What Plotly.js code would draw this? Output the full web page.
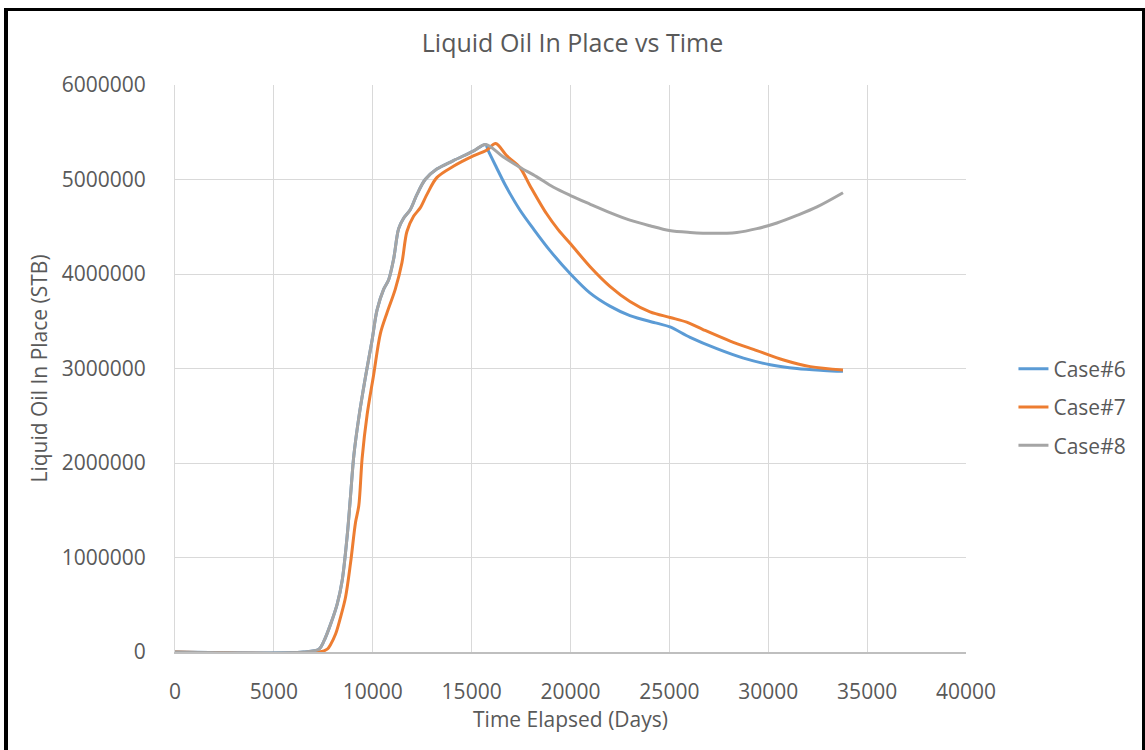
<!DOCTYPE html>
<html>
<head>
<meta charset="utf-8">
<script src="https://cdn.plot.ly/plotly-3.0.1.min.js"></script>
<style>
  html, body { margin: 0; padding: 0; background: #fff; overflow: hidden; }
  #chart { width: 1145px; height: 750px; }
  #frame { position: absolute; left: 4px; top: 8px; width: 1134px; height: 760px;
           border-left: 4px solid #000; border-top: 3px solid #000; border-right: 3px solid #000;
           pointer-events: none; }
</style>
</head>
<body>
<div id="chart"></div>
<div id="frame"></div>
<script>
// Case#6
const case6Time = [0, 6500, 7280, 7533, 7869, 8205, 8456, 8708, 8876, 9044, 9295, 9631, 9966, 10218, 10554, 10805, 11057, 11309, 11560, 11896, 12232, 12651, 13239, 14078, 15084, 15705,
  15828, 16250, 16757, 17433, 18150, 18953, 20000, 20980, 21993, 23006, 24358, 25034, 26047, 27398, 28749, 30100, 31451, 32803, 33780];
const case6Oil = [0, 0, 30000, 117000, 295000, 510000, 760000, 1230000, 1650000, 2080000, 2480000, 2910000, 3300000, 3620000, 3840000, 3940000, 4160000, 4480000, 4590000, 4680000, 4840000, 5000000, 5110000, 5200000, 5300000, 5370000,
  5310000, 5130000, 4920000, 4680000, 4470000, 4250000, 4000000, 3800000, 3660000, 3560000, 3480000, 3440000, 3330000, 3210000, 3110000, 3040000, 3000000, 2980000, 2970000];

// Case#7
const case7Time = [0, 7300, 7700, 7869, 8121, 8373, 8624, 8876, 9128, 9295, 9463, 9715, 10050, 10386, 10722, 11141, 11477, 11728, 12064, 12400, 12735, 13239, 14078, 15084, 15755, 16217,
  16780, 17433, 17939, 18784, 19375, 20000, 20980, 21993, 23006, 24020, 25034, 25878, 26723, 28074, 29425, 30776, 32127, 33780];
const case7Oil = [0, 0, 30000, 80000, 190000, 370000, 580000, 940000, 1370000, 1550000, 2050000, 2510000, 2940000, 3370000, 3590000, 3840000, 4120000, 4450000, 4610000, 4700000, 4840000, 5020000, 5140000, 5250000, 5310000, 5380000,
  5250000, 5130000, 4940000, 4640000, 4470000, 4320000, 4080000, 3870000, 3710000, 3600000, 3540000, 3490000, 3410000, 3290000, 3190000, 3090000, 3020000, 2985000];

// Case#8
const case8Time = [0, 6500, 7280, 7533, 7869, 8205, 8456, 8708, 8876, 9044, 9295, 9631, 9966, 10218, 10554, 10805, 11057, 11309, 11560, 11896, 12232, 12651, 13239, 14078, 15084, 15705,
  16588, 17433, 18277, 19122, 20000, 20980, 21993, 23006, 24020, 25000, 26047, 27229, 28411, 29425, 30438, 31451, 32465, 33780];
const case8Oil = [0, 0, 30000, 117000, 295000, 510000, 760000, 1230000, 1650000, 2080000, 2480000, 2910000, 3300000, 3620000, 3840000, 3940000, 4160000, 4480000, 4590000, 4680000, 4840000, 5000000, 5110000, 5200000, 5300000, 5370000,
  5240000, 5130000, 5030000, 4920000, 4830000, 4740000, 4650000, 4570000, 4510000, 4460000, 4440000, 4430000, 4440000, 4480000, 4540000, 4620000, 4710000, 4860000];

const seriesNames = ["Case#6", "Case#7", "Case#8"];
const xTicks = [0, 5000, 10000, 15000, 20000, 25000, 30000, 35000, 40000];
const yTicks = [0, 1000000, 2000000, 3000000, 4000000, 5000000, 6000000];

const colors = ["#5B9BD5", "#ED7D31", "#A5A5A5"];
const xs = [case6Time, case7Time, case8Time];
const ys = [case6Oil, case7Oil, case8Oil];

const traces = seriesNames.map((n, i) => ({
  type: "scatter", mode: "lines", name: n, x: xs[i], y: ys[i],
  line: { color: colors[i], width: 3, shape: "spline", smoothing: 0.9 },
  legendgroup: n
}));

const fontFam = "'Open Sans', 'Liberation Sans', sans-serif";
const grey = "#595959";

const layout = {
  width: 1145, height: 750,
  margin: { l: 175, r: 179, t: 85, b: 98 },
  paper_bgcolor: "#fff", plot_bgcolor: "#fff",
  font: { family: fontFam, color: grey, size: 20 },
  title: { text: "Liquid Oil In Place vs Time", x: 0.5, xanchor: "center", y: 0.943, yanchor: "middle",
           font: { size: 25, color: grey, family: fontFam } },
  xaxis: {
    range: [0, 40000], tickvals: xTicks, ticktext: xTicks.map(String),
    showgrid: true, gridcolor: "#d9d9d9", gridwidth: 1,
    zeroline: false, showline: true, linecolor: "#bfbfbf", linewidth: 2,
    ticks: "outside", ticklen: 20, tickcolor: "rgba(0,0,0,0)",
    tickfont: { size: 21, color: grey },
    title: { text: "Time Elapsed (Days)", font: { size: 21, color: grey }, standoff: 6 },
    fixedrange: true
  },
  yaxis: {
    range: [0, 6000000], tickvals: yTicks, ticktext: yTicks.map(String),
    showgrid: true, gridcolor: "#d9d9d9", gridwidth: 1,
    zeroline: false, showline: true, linecolor: "#d9d9d9", linewidth: 1,
    ticks: "outside", ticklen: 24, tickcolor: "rgba(0,0,0,0)",
    tickfont: { size: 21, color: grey },
    title: { text: "Liquid Oil In Place (STB)", font: { size: 21, color: grey }, standoff: 8 },
    fixedrange: true
  },
  showlegend: true,
  legend: {
    x: 1.06, xanchor: "left", y: 0.432, yanchor: "middle",
    font: { size: 21, color: grey }, bgcolor: "rgba(0,0,0,0)",
    traceorder: "grouped", tracegroupgap: 8, itemwidth: 30
  }
};

Plotly.newPlot("chart", traces, layout, { displayModeBar: false, staticPlot: true });
</script>
</body>
</html>
